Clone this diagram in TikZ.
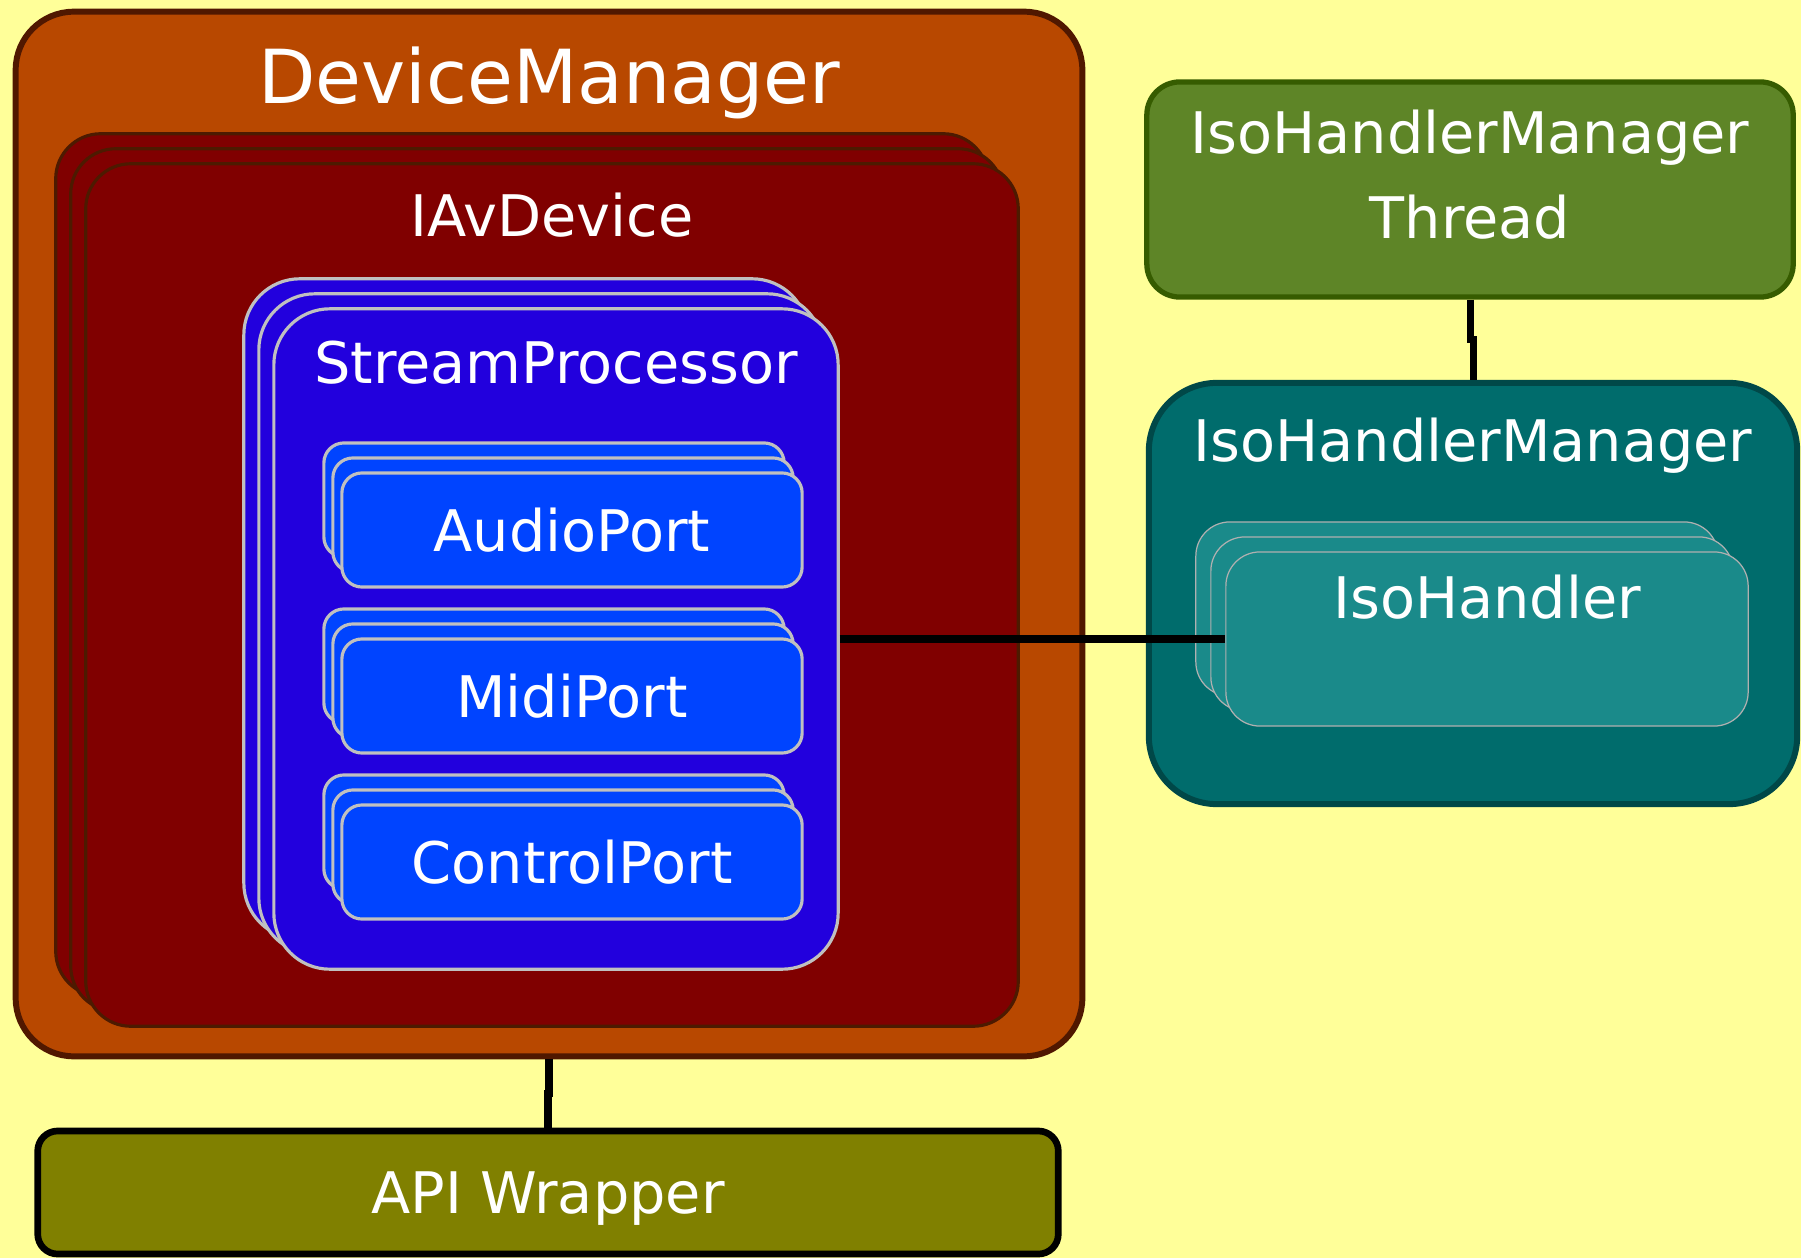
\documentclass[tikz,border=0pt]{standalone}
\usepackage{fontspec}
\setmainfont{DejaVu Sans}
\usepackage{xcolor}
\usepackage{tikz}
\usetikzlibrary{positioning, calc, shadows}
\definecolor{BgYellow}{RGB}{255,255,153}
\definecolor{DMFill}{RGB}{184,72,0}
\definecolor{DMLine}{RGB}{80,24,0}
\definecolor{AVFill}{RGB}{128,0,0}
\definecolor{AVLine}{RGB}{77,26,0}
\definecolor{SPFill}{RGB}{34,0,221}
\definecolor{PortFill}{RGB}{0,68,255}
\definecolor{FrameGray}{RGB}{192,192,192}
\definecolor{ThrFill}{RGB}{94,133,39}
\definecolor{ThrLine}{RGB}{54,92,0}
\definecolor{IHMFill}{RGB}{0,108,108}
\definecolor{IHMLine}{RGB}{0,72,72}
\definecolor{IsoFill}{RGB}{26,138,138}
\definecolor{IsoLine}{RGB}{176,176,176}
\definecolor{ApiFill}{RGB}{128,128,0}

\begin{document}
\begin{tikzpicture}[x=0.01cm, y=-0.01cm,
    box/.style={rectangle, inner sep=0pt},
    title/.style={text=white, inner sep=0pt, font=\fontsize{16.3}{24.2}\selectfont},
    bigtitle/.style={text=white, inner sep=0pt, font=\fontsize{21.2}{26}\selectfont},
    dmbox/.style={box, draw=DMLine, fill=DMFill, line width=1.7pt, rounded corners=0.58cm},
    avbox/.style={box, draw=AVLine, fill=AVFill, line width=0.9pt, rounded corners=0.45cm,
                  copy shadow={shadow xshift=-0.30cm, shadow yshift=0.30cm},
                  copy shadow={shadow xshift=-0.15cm, shadow yshift=0.15cm}},
    spbox/.style={box, draw=FrameGray, fill=SPFill, line width=0.9pt, rounded corners=0.56cm,
                  copy shadow={shadow xshift=-0.30cm, shadow yshift=0.30cm},
                  copy shadow={shadow xshift=-0.15cm, shadow yshift=0.15cm}},
    port/.style={box, draw=FrameGray, fill=PortFill, line width=0.9pt, rounded corners=0.2cm,
                 minimum width=4.6cm, minimum height=1.14cm, text=white,
                 font=\fontsize{16.3}{20}\selectfont,
                 copy shadow={shadow xshift=-0.18cm, shadow yshift=0.30cm},
                 copy shadow={shadow xshift=-0.09cm, shadow yshift=0.15cm}},
    thrbox/.style={box, draw=ThrLine, fill=ThrFill, line width=1.5pt, rounded corners=0.33cm},
    ihmbox/.style={box, draw=IHMLine, fill=IHMFill, line width=1.7pt, rounded corners=0.68cm},
    isobox/.style={box, draw=IsoLine, fill=IsoFill, line width=0.35pt, rounded corners=0.34cm,
                   copy shadow={shadow xshift=-0.30cm, shadow yshift=0.30cm},
                   copy shadow={shadow xshift=-0.15cm, shadow yshift=0.15cm}},
    apibox/.style={box, draw=black, fill=ApiFill, line width=1.9pt, rounded corners=0.2cm},
    link/.style={draw=black, line width=2pt}]

  \path[use as bounding box, fill=BgYellow] (0,0) rectangle (1801,1258);

  % device side: manager, stacked devices, stream processors and ports
  \node[dmbox, minimum width=10.66cm, minimum height=10.44cm] (dm) at (549,534) {};
  \node[bigtitle, anchor=base] (dmlabel) at ([yshift=-0.95cm]dm.north) {DeviceManager};

  \node[avbox, minimum width=9.32cm, minimum height=8.62cm] (av) at (552,595) {};
  \node[title, anchor=base] (avlabel) at ([yshift=-0.74cm]av.north) {IAvDevice};

  \node[spbox, minimum width=5.64cm, minimum height=6.6cm] (sp) at (556,639) {};
  \node[title, anchor=base] (splabel) at ([yshift=-0.765cm]sp.north) {StreamProcessor};

  \foreach \name/\lbl/\y in {audio/AudioPort/530, midi/MidiPort/696, ctrl/ControlPort/862}
    \node[port] (\name) at (572,\y) {\lbl};

  % iso side: thread and handler manager
  \node[thrbox, minimum width=6.46cm, minimum height=2.15cm] (thr) at (1470,189.5) {};
  \node[title, align=center] (thrlabel) at ([yshift=0.15cm]thr.center)
        {IsoHandlerManager\\Thread};

  \node[ihmbox, minimum width=6.48cm, minimum height=4.21cm] (ihm) at (1473,593.5) {};
  \node[title, anchor=base] (ihmlabel) at ([yshift=-0.82cm]ihm.north) {IsoHandlerManager};

  \node[isobox, minimum width=5.22cm, minimum height=1.74cm] (iso) at (1487,639) {};
  \node[title, anchor=base] (isolabel) at ([yshift=-0.67cm]iso.north) {IsoHandler};

  \node[apibox, minimum width=10.2cm, minimum height=1.23cm] (api) at (548,1192.5) {};
  \node[title, anchor=base] (apilabel) at ([yshift=-0.205cm]api.center) {API Wrapper};

  % connections
  \draw[link] (sp.east) -- (iso.west);
  \draw[link] (dm.south) |- ($(dm.south)!.5!(api.north)$) -| (api.north);
  \draw[link] (thr.south) |- ($(thr.south)!.5!(ihm.north)$) -| (ihm.north);
\end{tikzpicture}
\end{document}
